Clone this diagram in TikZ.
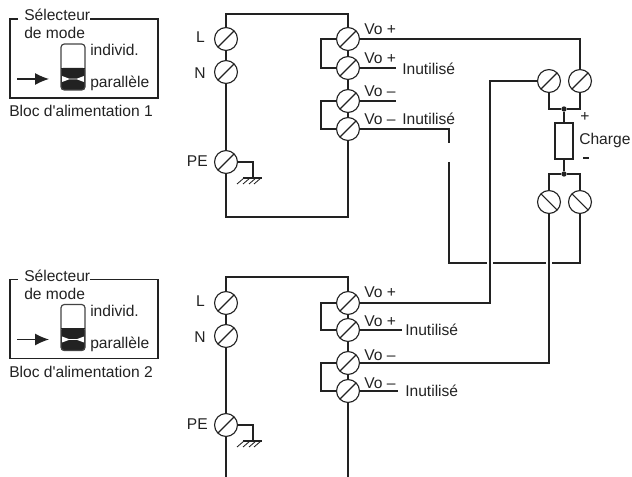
\documentclass[tikz,border=0pt]{standalone}
\usepackage{fontspec}
\setmainfont{Liberation Sans}
\usetikzlibrary{arrows.meta}
\definecolor{ink}{HTML}{222222}
\tikzset{
  x=0.75pt,y=-0.75pt,
  wire/.style={draw=ink,line width=0.85pt,line join=miter},
  label/.style={inner sep=0pt,anchor=base west,text=ink,font=\fontsize{11.7}{13}\selectfont},
  rlabel/.style={label,anchor=base east},
  screw/.style={circle,draw=ink,fill=white,line width=0.85pt,minimum size=17.2pt,inner sep=0pt,
    path picture={\draw[ink,line width=0.8pt] (path picture bounding box.south west)--(path picture bounding box.north east);}},
  screwb/.style={circle,draw=ink,fill=white,line width=0.85pt,minimum size=17.2pt,inner sep=0pt,
    path picture={\draw[ink,line width=0.8pt] (path picture bounding box.north west)--(path picture bounding box.south east);}},
  dot/.style={circle,fill=ink,inner sep=0pt,minimum size=4pt},
  load/.style={draw=ink,fill=white,line width=0.85pt,minimum width=13.5pt,minimum height=27pt,inner sep=0pt},
  pics/selector/.style={code={
    \draw[wire] (18,19) -- (10,19) -- (10,98) -- (158,98) -- (158,19) -- (90,19);
    \node[label] (-title) at (24,21) {Sélecteur};
    \node[label] (-mode) at (24,39) {de mode};
    \fill[ink,rounded corners=1.5pt] (61,68) rectangle (85,90);
    \fill[white] (62,76) -- (69,78.6) -- (77,78.6) -- (84,76) -- (84,82) -- (77,79.4) -- (69,79.4) -- (62,82) -- cycle;
    \draw[ink!85,line width=0.9pt,rounded corners=2.5pt] (61,44) rectangle (85,90);
    \draw[ink,line width=0.6pt] (61,68) -- (85,68);
    \node[label] (-ind) at (90,56) {individ.};
    \node[label] (-par) at (90,88) {parallèle};
    \coordinate (-a) at (17,79);
    \coordinate (-b) at (49,79);
    \draw[wire,-{Latex[length=10.5pt,width=9pt]}] (-a) -- (-b);
    \node[label] (-bloc) at (9,117) {Bloc d\textquotesingle alimentation #1};
  }},
  pics/earth/.style={code={
    \draw[wire] (-10,0) -- (9,0);
    \foreach \i in {-9,-3,3,8}{\draw[ink,line width=0.65pt] (\i,0) -- (\i-7,6);}
  }}
}
\begin{document}
\begin{tikzpicture}
\useasboundingbox (0,0) rectangle (632,477);
\pic (s1) at (0,0) {selector={1}};
\pic (s2) at (0,260.5) {selector={2}};

% --- supply 1
\node[screw] (L1) at (226,39) {};
\node[screw] (N1) at (226,72) {};
\node[screw] (PE1) at (226,162) {};
\node[screw] (A1) at (348,39) {};
\node[screw] (B1) at (348,68) {};
\node[screw] (C1) at (348,101) {};
\node[screw] (D1) at (348,129) {};
\coordinate (TL1) at (226,14);
\coordinate (TR1) at (348,14);
\coordinate (BL1) at (226,217);
\coordinate (BR1) at (348,217);
\coordinate (E1) at (253,162);
\coordinate (G1) at (253,178);
\coordinate (SB1) at (396,68);
\coordinate (SC1) at (396,101);
\coordinate (LA1) at (321,39);
\coordinate (LB1) at (321,68);
\coordinate (LC1) at (321,101);
\coordinate (LD1) at (321,129);
\node[rlabel] (lL1) at (205,43) {L};
\node[rlabel] (lN1) at (206,79) {N};
\node[rlabel] (lPE1) at (208,167) {PE};
\node[label] (v1) at (364,35) {Vo +};
\node[label] (v2) at (364,64) {Vo +};
\node[label] (v3) at (364,97) {Vo –};
\node[label] (v4) at (364,125) {Vo –};
\node[label] (u1) at (402,75) {Inutilisé};
\node[label] (u2) at (402,125) {Inutilisé};
\draw[wire] (L1.north) -- (TL1) -- (TR1) -- (A1.north);
\draw[wire] (L1.south) -- (N1.north);
\draw[wire] (N1.south) -- (PE1.north);
\draw[wire] (PE1.south) -- (BL1) -- (BR1) -- (D1.south);
\draw[wire] (A1.south) -- (B1.north);
\draw[wire] (B1.south) -- (C1.north);
\draw[wire] (C1.south) -- (D1.north);
\draw[wire] (A1.west) -- (LA1) -- (LB1) -- (B1.west);
\draw[wire] (C1.west) -- (LC1) -- (LD1) -- (D1.west);
\draw[wire] (B1.east) -- (SB1);
\draw[wire] (C1.east) -- (SC1);
\draw[wire] (PE1.east) -- (E1) -- (G1);
\pic at (G1) {earth};

% --- supply 2
\node[screw] (L2) at (226,303) {};
\node[screw] (N2) at (226,336) {};
\node[screw] (PE2) at (226,425) {};
\node[screw] (A2) at (348,303) {};
\node[screw] (B2) at (348,330) {};
\node[screw] (C2) at (348,363) {};
\node[screw] (D2) at (348,391) {};
\coordinate (TL2) at (226,277);
\coordinate (TR2) at (348,277);
\coordinate (BL2) at (226,477);
\coordinate (BR2) at (348,477);
\coordinate (E2) at (253,425);
\coordinate (G2) at (253,441);
\coordinate (SB2) at (402,330);
\coordinate (SD2) at (398,391);
\coordinate (LA2) at (321,303);
\coordinate (LB2) at (321,330);
\coordinate (LC2) at (321,363);
\coordinate (LD2) at (321,391);
\node[rlabel] (lL2) at (205,307) {L};
\node[rlabel] (lN2) at (206,343) {N};
\node[rlabel] (lPE2) at (208,429) {PE};
\node[label] (w1) at (364,298) {Vo +};
\node[label] (w2) at (364,327) {Vo +};
\node[label] (w3) at (364,360) {Vo –};
\node[label] (w4) at (364,388) {Vo –};
\node[label] (u3) at (405,335) {Inutilisé};
\node[label] (u4) at (405,397) {Inutilisé};
\draw[wire] (L2.north) -- (TL2) -- (TR2) -- (A2.north);
\draw[wire] (L2.south) -- (N2.north);
\draw[wire] (N2.south) -- (PE2.north);
\draw[wire] (PE2.south) -- (BL2);
\draw[wire] (D2.south) -- (BR2);
\draw[wire] (A2.south) -- (B2.north);
\draw[wire] (B2.south) -- (C2.north);
\draw[wire] (C2.south) -- (D2.north);
\draw[wire] (A2.west) -- (LA2) -- (LB2) -- (B2.west);
\draw[wire] (C2.west) -- (LC2) -- (LD2) -- (D2.west);
\draw[wire] (B2.east) -- (SB2);
\draw[wire] (D2.east) -- (SD2);
\draw[wire] (PE2.east) -- (E2) -- (G2);
\pic at (G2) {earth};

% --- load
\node[screw] (P1) at (549,81) {};
\node[screw] (P2) at (580,81) {};
\node[screwb] (M1) at (549,202) {};
\node[screwb] (M2) at (580,202) {};
\node[load] (R) at (564,141) {};
\node[dot] (JT) at (564,109) {};
\node[dot] (JB) at (564,174) {};
\node[label,anchor=base] (plus) at (585,122) {+};
\node[label] (ch) at (579,145) {Charge};
\coordinate (MS) at (583,158);
\coordinate (ME) at (589,158);
\draw[ink,line width=1.2pt] (MS) -- (ME);
\draw[wire] (P1.south) |- (JT) -| (P2.south);
\draw[wire] (JT) -- (R.north);
\draw[wire] (R.south) -- (JB);
\draw[wire] (M1.north) |- (JB) -| (M2.north);

% --- interconnections
\coordinate (TA) at (580,39);
\draw[wire] (A1.east) -- (TA) -- (P2.north);
\coordinate (W1) at (490,81);
\coordinate (W2) at (490,303);
\draw[wire] (P1.west) -- (W1) -- (W2) -- (A2.east);
\coordinate (W3) at (549,363);
\draw[wire] (M1.south) -- (W3) -- (C2.east);
\coordinate (X1) at (449,129);
\coordinate (X2) at (449,143);
\coordinate (X3) at (449,162);
\coordinate (X4) at (449,263);
\coordinate (X5) at (487,263);
\coordinate (X6) at (493,263);
\coordinate (X7) at (546,263);
\coordinate (X8) at (552,263);
\coordinate (X9) at (580,263);
\draw[wire] (D1.east) -- (X1) -- (X2);
\draw[wire] (X3) -- (X4) -- (X5);
\draw[wire] (X6) -- (X7);
\draw[wire] (X8) -- (X9) -- (M2.south);
\end{tikzpicture}
\end{document}
